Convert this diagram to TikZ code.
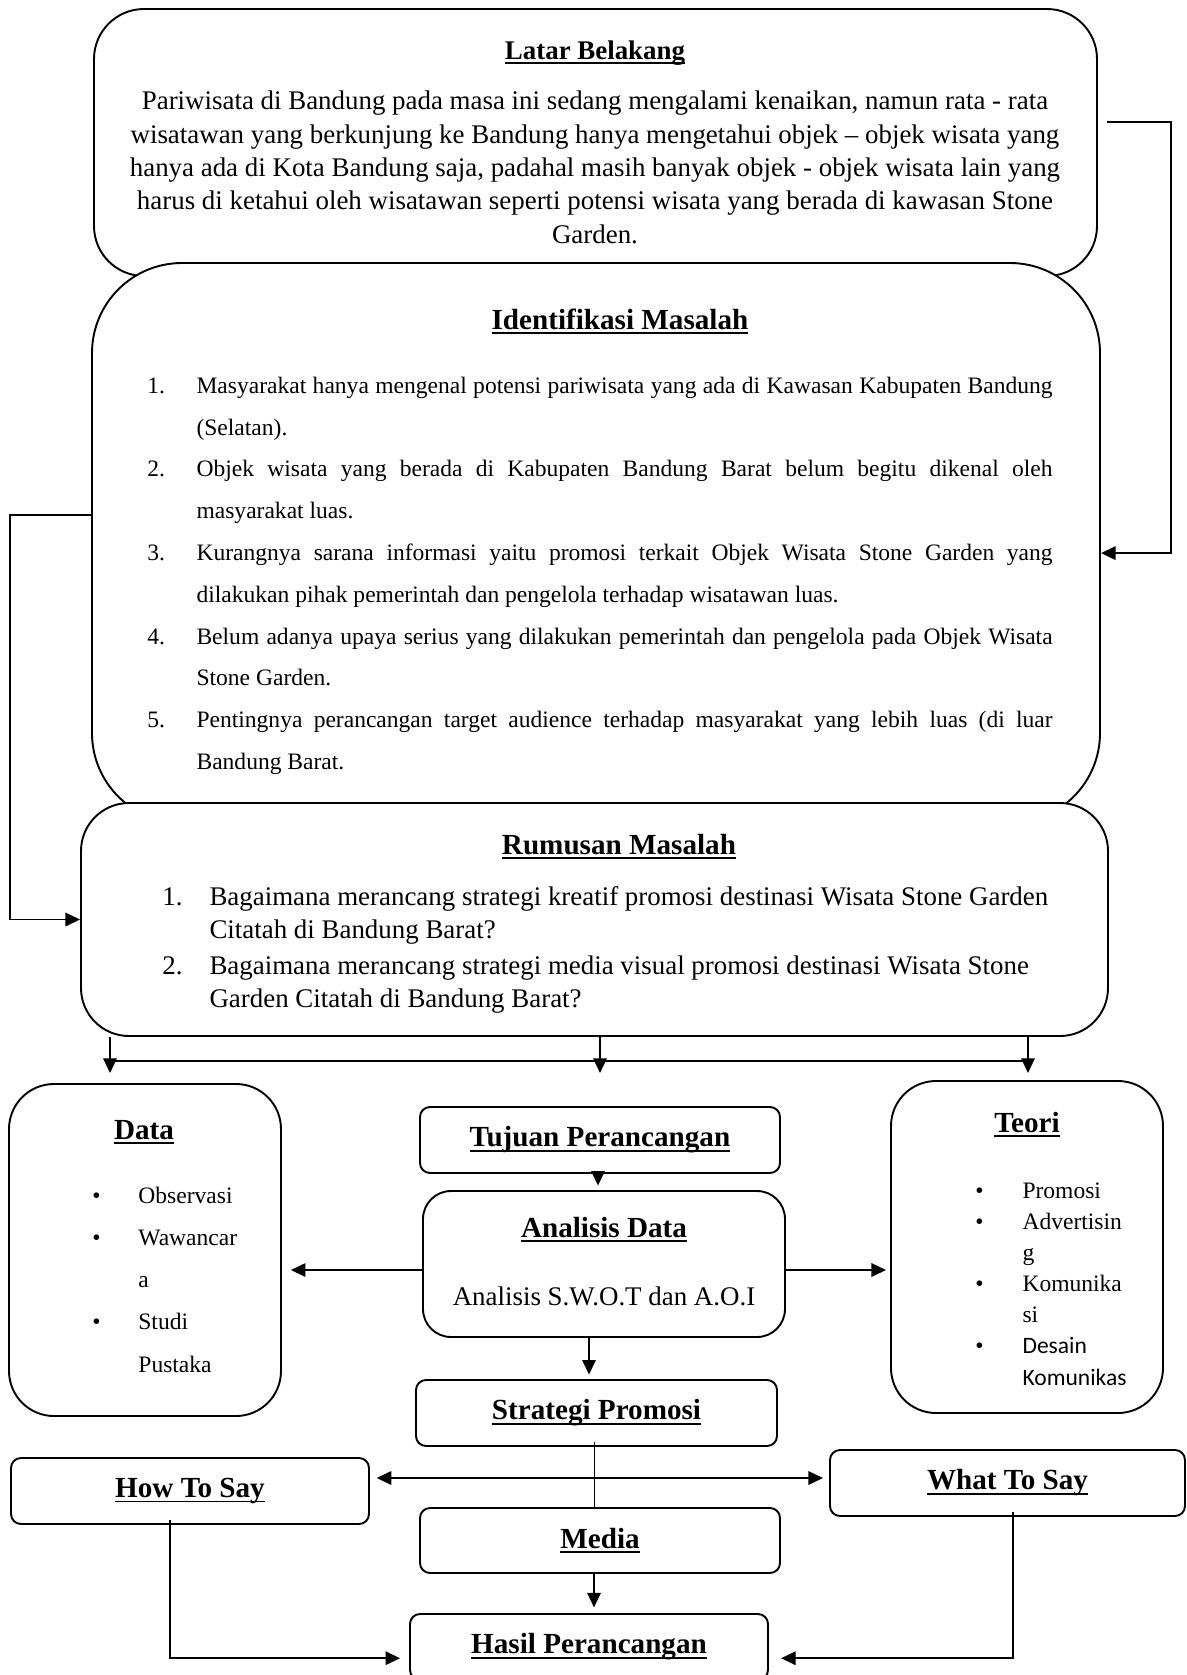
\documentclass[tikz,border=0pt]{standalone}
\usepackage{fontspec}
\setmainfont{Liberation Serif}
\newfontfamily\calibri{Carlito}
\usetikzlibrary{arrows.meta}
\newcommand{\pxu}{0.446pt}
\newcommand{\ulbf}[1]{\setbox0=\hbox{\bfseries #1}\rlap{\rule[-2.2pt]{\wd0}{0.8pt}}\box0}
\newcommand{\numrow}[3]{\makebox[21.9pt][l]{#1}\makebox[381.8pt][s]{#2}\\\hspace*{21.9pt}#3}
\tikzstyle{bigbox} = [draw=black, fill=white, line width=0.85pt, rectangle, inner sep=0pt]
\tikzstyle{smallbox} = [bigbox, rounded corners=10*\pxu, font=\fontsize{13pt}{15pt}\selectfont]
\tikzstyle{titletext} = [inner sep=0pt, anchor=base, font=\fontsize{13pt}{15pt}\selectfont]
\tikzstyle{bodytext} = [inner sep=0pt, anchor=base west, align=left]
\tikzstyle{arr} = [line width=0.8pt, -{Triangle[length=6.5pt,width=6pt]}]
\tikzstyle{arrtwo} = [line width=0.8pt, {Triangle[length=6.5pt,width=6pt]}-{Triangle[length=6.5pt,width=6pt]}]
\begin{document}
\begin{tikzpicture}[x=\pxu, y=-\pxu]
\useasboundingbox (0,0) rectangle (1187,1675);
\node[bigbox, rounded corners=50*\pxu, minimum width=1003*\pxu, minimum height=267*\pxu] (latar) at (595.5,142.5) {};
\node[titletext, font=\fontsize{12pt}{14pt}\selectfont] (latarT) at (595,59) {\ulbf{Latar Belakang}};
\node[inner sep=0pt, anchor=base, align=center, font=\fontsize{12pt}{14.85pt}\selectfont] (latarB) at (595,243) {%
  Pariwisata di Bandung pada masa ini sedang mengalami kenaikan, namun rata - rata\\
  wisatawan yang berkunjung ke Bandung hanya mengetahui objek – objek wisata yang\\
  hanya ada di Kota Bandung saja, padahal masih banyak objek - objek wisata lain yang\\
  harus di ketahui oleh wisatawan seperti potensi wisata yang berada di kawasan Stone\\
  Garden.};

\node[bigbox, rounded corners=90*\pxu, minimum width=1008*\pxu, minimum height=560*\pxu] (ident) at (596,543) {};
\node[titletext] (identT) at (620,329) {\ulbf{Identifikasi Masalah}};
\node[bodytext, font=\fontsize{10.5pt}{18.64pt}\selectfont] (identB) at (147,769.5) {%
  \numrow{1.}{Masyarakat hanya mengenal potensi pariwisata yang ada di Kawasan Kabupaten Bandung}{(Selatan).}\\
  \numrow{2.}{Objek wisata yang berada di Kabupaten Bandung Barat belum begitu dikenal oleh}{masyarakat luas.}\\
  \numrow{3.}{Kurangnya sarana informasi yaitu promosi terkait Objek Wisata Stone Garden yang}{dilakukan pihak pemerintah dan pengelola terhadap wisatawan luas.}\\
  \numrow{4.}{Belum adanya upaya serius yang dilakukan pemerintah dan pengelola pada Objek Wisata}{Stone Garden.}\\
  \numrow{5.}{Pentingnya perancangan target audience terhadap masyarakat yang lebih luas (di luar}{Bandung Barat.}};

\node[bigbox, rounded corners=48*\pxu, minimum width=1027*\pxu, minimum height=233*\pxu] (rumus) at (594.5,919.5) {};
\node[titletext] (rumusT) at (619,854) {\ulbf{Rumusan Masalah}};
\node[bodytext, font=\fontsize{12pt}{14.7pt}\selectfont] (rumusB) at (162,1007) {%
  \makebox[21pt][l]{1.}Bagaimana merancang strategi kreatif promosi destinasi Wisata Stone Garden\\
  \hspace*{21pt}Citatah di Bandung Barat?\\[1pt]
  \makebox[21pt][l]{2.}Bagaimana merancang strategi media visual promosi destinasi Wisata Stone\\
  \hspace*{21pt}Garden Citatah di Bandung Barat?};

\node[bigbox, rounded corners=45*\pxu, minimum width=272*\pxu, minimum height=332*\pxu] (data) at (145,1250) {};
\node[titletext] (dataT) at (144,1139) {\ulbf{Data}};
\node[bodytext, font=\fontsize{10.5pt}{18.8pt}\selectfont] (dataB) at (92,1372) {%
  \makebox[20.5pt][l]{\textbullet}Observasi\\
  \makebox[20.5pt][l]{\textbullet}Wawancar\\
  \hspace*{20.5pt}a\\
  \makebox[20.5pt][l]{\textbullet}Studi\\
  \hspace*{20.5pt}Pustaka};

\node[bigbox, rounded corners=45*\pxu, minimum width=272*\pxu, minimum height=332*\pxu] (teori) at (1027,1247) {};
\node[titletext] (teoriT) at (1027,1132) {\ulbf{Teori}};
\node[bodytext, font=\fontsize{10.5pt}{13.9pt}\selectfont] (teoriB) at (975,1385) {%
  \makebox[21pt][l]{\textbullet}Promosi\\
  \makebox[21pt][l]{\textbullet}Advertisin\\
  \hspace*{21pt}g\\
  \makebox[21pt][l]{\textbullet}Komunika\\
  \hspace*{21pt}si\\
  \makebox[21pt][l]{\textbullet}{\calibri Desain}\\
  \hspace*{21pt}{\calibri Komunikas}};

\node[smallbox, minimum width=360*\pxu, minimum height=66*\pxu] (tujuan) at (600,1140) {\ulbf{Tujuan Perancangan}};
\node[bigbox, rounded corners=28*\pxu, minimum width=362*\pxu, minimum height=146*\pxu] (analisis) at (604,1264) {};
\node[titletext] (analisisT) at (604,1237) {\ulbf{Analisis Data}};
\node[inner sep=0pt, anchor=base, font=\fontsize{12pt}{14pt}\selectfont] (analisisB) at (604,1305) {Analisis S.W.O.T dan A.O.I};
\node[smallbox, minimum width=361*\pxu, minimum height=66*\pxu] (strategi) at (596.5,1413) {\ulbf{Strategi Promosi}};
\node[smallbox, minimum width=358*\pxu, minimum height=66*\pxu] (how) at (190,1491) {\ulbf{How To Say}};
\node[smallbox, minimum width=355*\pxu, minimum height=66*\pxu] (what) at (1007.5,1483) {\ulbf{What To Say}};
\node[smallbox, minimum width=360*\pxu, minimum height=65*\pxu] (media) at (600,1540.5) {\ulbf{Media}};
\node[smallbox, minimum width=358*\pxu, minimum height=66*\pxu] (hasil) at (589,1647) {\ulbf{Hasil Perancangan}};

\coordinate (latarOut) at (1107,122);
\draw[arr] (latarOut) -- ++(64,0) |- ([yshift=-4.5pt]ident.east);
\draw[arr] ([yshift=12.5pt]ident.west) -- ++(-81,0) |- (rumus.west);
\foreach \xx in {110,600,1028}
  \draw[arr] (rumus.south -| \xx,0) -- ++(0,36);
\draw[line width=0.8pt] (rumus.south -| 110,0) ++(0,24) -- ++(918,0);
\draw[arr, shorten >=2pt] (tujuan.south -| 598,0) -- (analisis.north -| 598,0);
\draw[arr, shorten >=4pt] (analisis.west |- 0,1270) -- (data.east |- 0,1270);
\draw[arr, shorten >=1.8pt] (analisis.east |- 0,1270) -- (teori.west |- 0,1270);
\draw[arr, shorten >=2pt] (analisis.south -| 589,0) -- (strategi.north -| 589,0);
\draw[arrtwo, shorten <=3pt, shorten >=2.7pt] (how.east |- 0,1478) -- (what.west |- 0,1478);
\draw[line width=0.45pt] ([yshift=2pt]strategi.south -| 594,0) -- (media.north -| 594,0);
\draw[arr, shorten >=2.5pt] (media.south -| 594,0) -- (hasil.north -| 594,0);
\draw[arr, shorten >=4pt] ([yshift=2pt]how.south -| 170,0) |- ([yshift=-5pt]hasil.west);
\draw[arr, shorten >=5.4pt] ([yshift=2pt]what.south -| 1013,0) |- ([yshift=-5pt]hasil.east);
\end{tikzpicture}
\end{document}
